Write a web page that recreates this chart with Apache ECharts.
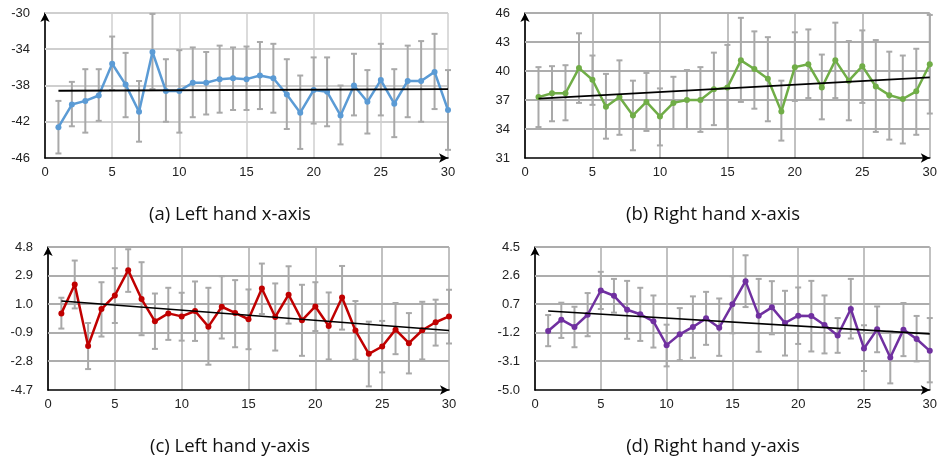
<!DOCTYPE html>
<html>
<head>
<meta charset="utf-8">
<script src="https://cdn.jsdelivr.net/npm/echarts@6/dist/echarts.min.js"></script>
<style>
html,body{margin:0;padding:0;background:#fff;}
#c{width:940px;height:464px;}
</style>
</head>
<body>
<div id="c"></div>
<script>
const xValues = [1,2,3,4,5,6,7,8,9,10,11,12,13,14,15,16,17,18,19,20,21,22,23,24,25,26,27,28,29,30];
const trendX = [1, 30];
const xRange = [0, 30];

const aMean = [-42.6,-40.1,-39.7,-39.1,-35.6,-37.9,-40.9,-34.3,-38.6,-38.6,-37.7,-37.7,-37.3,-37.2,-37.3,-36.9,-37.2,-39.0,-41.0,-38.5,-38.7,-41.3,-38.0,-39.8,-37.4,-40.0,-37.5,-37.5,-36.5,-40.7];
const aHigh = [-39.7,-37.6,-36.2,-36.2,-32.6,-34.4,-37.5,-30.1,-35.1,-34.1,-33.8,-34.3,-33.6,-33.8,-33.7,-33.2,-33.4,-35.1,-36.9,-34.9,-34.9,-38.0,-34.5,-36.3,-33.4,-36.2,-33.6,-33.1,-32.3,-36.3];
const aLow  = [-45.5,-42.5,-43.2,-41.9,-38.5,-41.5,-44.2,-38.4,-42.0,-43.2,-41.5,-41.2,-41.0,-40.7,-40.7,-40.6,-41.0,-42.8,-45.0,-42.2,-42.5,-44.5,-41.3,-43.3,-41.3,-43.7,-41.5,-42.0,-40.6,-45.1];
const aTrend = [-38.57, -38.4];
const aTicks = [-46,-42,-38,-34,-30];

const bMean = [37.3,37.7,37.7,40.3,39.1,36.3,37.3,35.4,36.8,35.3,36.7,37.0,37.0,38.1,38.3,41.1,40.2,39.2,35.8,40.4,40.7,38.3,41.1,39.0,40.5,38.4,37.5,37.1,37.9,40.7];
const bHigh = [40.4,40.5,40.6,43.9,41.6,39.7,41.1,39.0,39.8,38.2,39.4,40.1,40.4,41.9,42.7,45.5,44.1,43.5,39.0,44.0,44.3,41.7,45.0,43.1,44.2,43.2,42.0,41.6,42.3,45.8];
const bLow  = [34.2,34.8,34.9,36.7,36.5,33.0,33.4,31.8,33.8,32.3,34.0,34.0,33.7,34.4,34.0,36.8,36.1,34.8,32.8,36.9,37.2,35.0,37.2,34.9,36.7,33.7,32.9,32.5,33.4,35.6];
const bTrend = [37.14, 39.34];
const bTicks = [31,34,37,40,43,46];

const cMean = [0.39,2.31,-1.77,0.68,1.58,3.26,1.34,-0.14,0.39,0.19,0.55,-0.49,0.83,0.42,0.0,2.04,0.15,1.63,-0.07,0.85,-0.45,1.45,-0.75,-2.30,-1.81,-0.69,-1.59,-0.73,-0.20,0.19];
const cHigh = [1.43,3.90,-0.25,2.46,3.39,4.65,3.79,1.71,2.09,1.76,2.51,2.09,2.86,2.60,1.98,3.70,2.38,3.52,2.29,2.46,1.78,3.54,1.21,-0.16,-0.11,1.08,0.41,1.16,1.30,1.96];
const cLow  = [-0.62,0.72,-3.31,-1.15,-0.25,1.82,-1.06,-1.97,-1.37,-1.42,-1.44,-3.02,-1.28,-1.86,-1.99,0.35,-2.08,-0.29,-2.43,-0.78,-2.67,-0.69,-2.69,-4.46,-3.53,-2.32,-3.60,-2.67,-1.75,-1.61];
const cTrend = [1.21, -0.75];
const cTicks = [-4.7,-2.8,-0.9,1.0,2.9,4.8];

const dMean = [-1.08,-0.33,-0.81,0.0,1.61,1.26,0.33,0.03,-0.44,-2.02,-1.30,-0.81,-0.24,-0.86,0.69,2.23,-0.06,0.49,-0.55,-0.06,-0.08,-0.68,-1.38,0.38,-2.24,-0.97,-2.84,-0.99,-1.61,-2.40];
const dHigh = [-0.02,0.80,0.53,1.44,2.85,2.38,2.25,1.79,1.28,-0.66,0.44,1.22,1.52,1.08,2.56,3.95,2.38,2.23,1.59,1.81,2.25,1.28,-0.22,2.38,-0.70,0.55,-1.12,0.78,-0.08,-0.22];
const dLow  = [-2.09,-1.54,-2.16,-1.43,0.38,0.14,-1.60,-1.74,-2.18,-3.43,-3.02,-2.86,-2.00,-2.73,-1.23,0.51,-2.46,-1.30,-2.71,-1.94,-2.44,-2.57,-2.53,-1.58,-3.74,-2.49,-4.56,-2.75,-3.10,-4.49];
const dTrend = [0.25, -1.27];
const dTicks = [-5.0,-3.1,-1.2,0.7,2.6,4.5];

const captions = ['(a) Left hand x-axis','(b) Right hand x-axis','(c) Left hand y-axis','(d) Right hand y-axis'];

const panels = [
  {mean:aMean, high:aHigh, low:aLow, trend:aTrend, ticks:aTicks, color:'#5b9bd5', grid:'#cfcfcf', dec:0,
   box:{left:45, top:13, width:403, height:145}, cap:[230,215]},
  {mean:bMean, high:bHigh, low:bLow, trend:bTrend, ticks:bTicks, color:'#70ad47', grid:'#adadad', dec:0,
   box:{left:525, top:13, width:411, height:145}, cap:[713,215]},
  {mean:cMean, high:cHigh, low:cLow, trend:cTrend, ticks:cTicks, color:'#c00000', grid:'#adadad', dec:1,
   box:{left:48, top:247, width:401, height:143}, cap:[230,447]},
  {mean:dMean, high:dHigh, low:dLow, trend:dTrend, ticks:dTicks, color:'#7030a0', grid:'#adadad', dec:1,
   box:{left:535, top:247, width:401, height:143}, cap:[713,447]}
];

const grids = [], xAxes = [], yAxes = [], series = [], graphics = [];
const axisFont = {fontFamily:'Liberation Sans, Arial, sans-serif', fontSize:13, color:'#222'};

panels.forEach((p, i) => {
  grids.push({left:p.box.left, top:p.box.top, width:p.box.width, height:p.box.height, containLabel:false});
  xAxes.push({
    type:'value', gridIndex:i, min:0, max:30, interval:5,
    axisLine:{show:true, onZero:false, lineStyle:{color:'#000', width:1.6}, symbol:['none','arrow'], symbolSize:[7,9]},
    axisTick:{show:false},
    axisLabel:Object.assign({margin:8, formatter:v=>String(v)}, axisFont),
    splitLine:{show:true, lineStyle:{color:p.grid, width:1.5}}
  });
  yAxes.push({
    type:'value', gridIndex:i, min:p.ticks[0], max:p.ticks[p.ticks.length-1],
    axisLine:{show:true, onZero:false, lineStyle:{color:'#000', width:1.6}, symbol:['none','arrow'], symbolSize:[7,9]},
    axisTick:{show:false},
    axisLabel:Object.assign({margin:15, customValues:p.ticks, formatter:v=>Number(v).toFixed(p.dec)}, axisFont),
    splitLine:{show:false}
  });
  // horizontal gridlines at the tick values, placed through the axis scale
  const gcol = p.grid;
  series.push({
    type:'custom', xAxisIndex:i, yAxisIndex:i, z:1, silent:true,
    data:p.ticks.slice(1).map(t => [xRange[0], t, xRange[1]]),
    renderItem:function(params, api){
      const a = api.coord([api.value(0), api.value(1)]);
      const b = api.coord([api.value(2), api.value(1)]);
      return {type:'rect', shape:{x:a[0], y:Math.round(a[1]) - 1, width:b[0] - a[0], height:2},
              style:{fill:gcol}};
    }
  });
  const errData = xValues.map((x, k) => [x, p.low[k], p.high[k]]);
  series.push({
    type:'custom', xAxisIndex:i, yAxisIndex:i, data:errData, z:2, silent:true,
    renderItem:function(params, api){
      const x = api.value(0);
      const top = api.coord([x, api.value(2)]);
      const bot = api.coord([x, api.value(1)]);
      const w = 3;
      const st = {stroke:'#a9a9a9', lineWidth:2};
      return {type:'group', children:[
        {type:'line', shape:{x1:top[0], y1:top[1], x2:bot[0], y2:bot[1]}, style:st},
        {type:'line', shape:{x1:top[0]-w, y1:top[1], x2:top[0]+w, y2:top[1]}, style:st},
        {type:'line', shape:{x1:bot[0]-w, y1:bot[1], x2:bot[0]+w, y2:bot[1]}, style:st}
      ]};
    }
  });
  series.push({
    type:'line', xAxisIndex:i, yAxisIndex:i, z:3,
    data:xValues.map((x, k) => [x, p.mean[k]]),
    symbol:'circle', symbolSize:6, showSymbol:true,
    lineStyle:{color:p.color, width:2.5}, itemStyle:{color:p.color}, clip:false
  });
  series.push({
    type:'line', xAxisIndex:i, yAxisIndex:i, z:4,
    data:trendX.map((x, k) => [x, p.trend[k]]),
    symbol:'none', lineStyle:{color:'#000', width:i===0?2:1.6}
  });
  graphics.push({
    type:'text', x:p.cap[0], y:p.cap[1],
    style:{text:captions[i], fontFamily:'"Open Sans", Lato, sans-serif', fontSize:18.5, fill:'#111', textAlign:'center', textVerticalAlign:'middle'}
  });
});

const chart = echarts.init(document.getElementById('c'), null, {renderer:'canvas'});
chart.setOption({
  animation:false,
  backgroundColor:'#fff',
  grid:grids, xAxis:xAxes, yAxis:yAxes, series:series, graphic:graphics
});
</script>
</body>
</html>
